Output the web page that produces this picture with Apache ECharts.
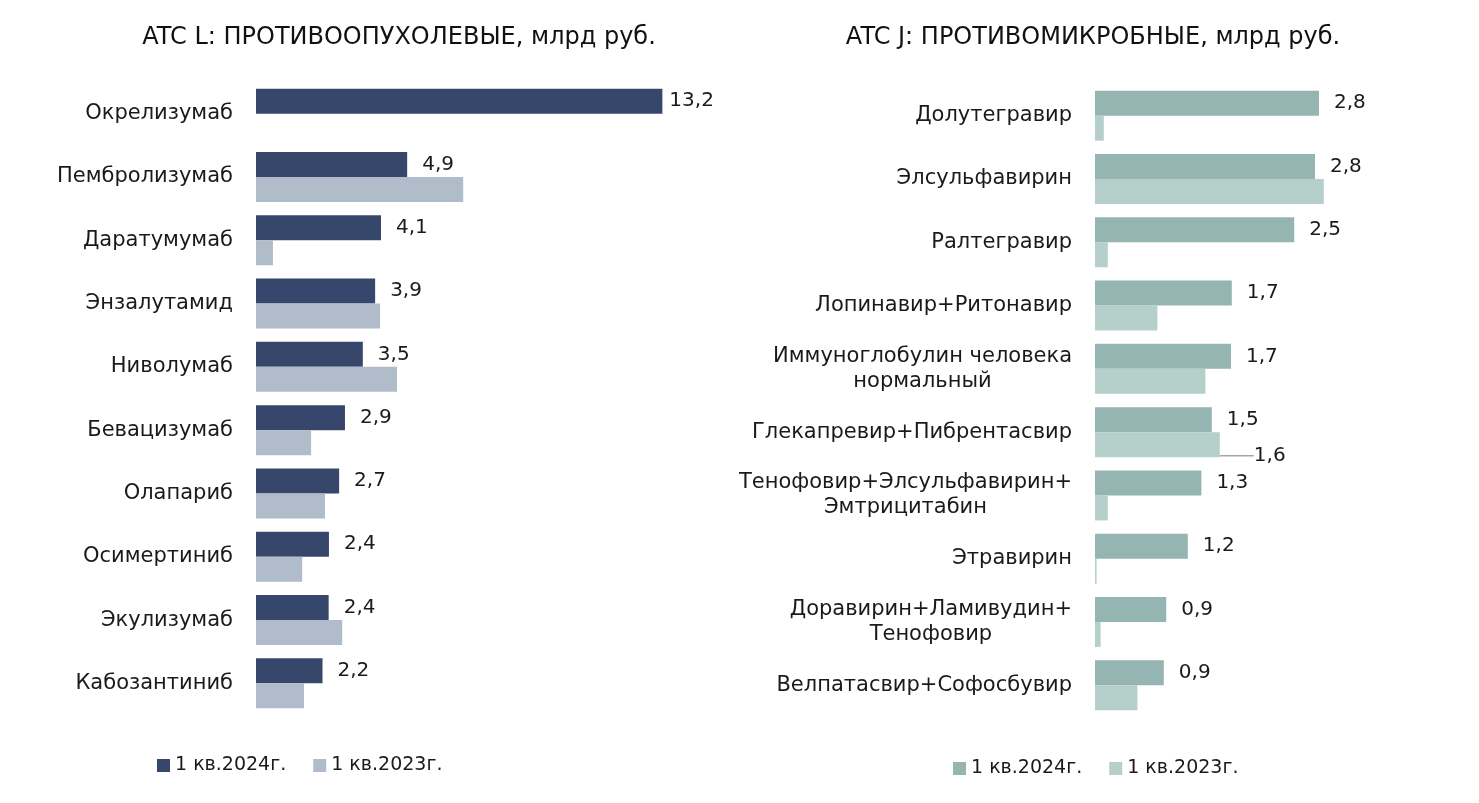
<!DOCTYPE html>
<html>
<head>
<meta charset="utf-8">
<script src="https://cdn.jsdelivr.net/npm/echarts@6/dist/echarts.min.js"></script>
<style>
  html, body { margin: 0; padding: 0; background: #fff; }
  #main { width: 1479px; height: 803px; }
</style>
</head>
<body>
<div id="main"></div>
<script>
// ATC L
const catsL = ["Окрелизумаб", "Пембролизумаб", "Даратумумаб", "Энзалутамид", "Ниволумаб",
  "Бевацизумаб", "Олапариб", "Осимертиниб", "Экулизумаб", "Кабозантиниб"];
const l2024 = [13.2, 4.91, 4.06, 3.87, 3.47, 2.89, 2.70, 2.37, 2.36, 2.16];
const l2023 = [0, 6.73, 0.55, 4.03, 4.58, 1.79, 2.24, 1.50, 2.80, 1.56];

// ATC J
const catsJ = ["Долутегравир", "Элсульфавирин", "Ралтегравир", "Лопинавир+Ритонавир",
  "Иммуноглобулин человека\nнормальный", "Глекапревир+Пибрентасвир",
  "Тенофовир+Элсульфавирин+\nЭмтрицитабин", "Этравирин",
  "Доравирин+Ламивудин+\nТенофовир", "Велпатасвир+Софосбувир"];
const j2024 = [2.80, 2.75, 2.49, 1.71, 1.70, 1.46, 1.33, 1.16, 0.89, 0.86];
const j2023 = [0.11, 2.86, 0.16, 0.78, 1.38, 1.56, 0.16, 0.02, 0.07, 0.53];

const seriesNames = ["1 кв.2024г.", "1 кв.2023г."];

const FONT = "DejaVu Sans";
const TXT = "#1a1a1a";
const fmt = p => p.value.toFixed(1).replace(".", ",");

const chart = echarts.init(document.getElementById("main"));

const catAxis = (idx, cats) => ({
  type: "category",
  gridIndex: idx,
  data: cats,
  inverse: true,
  axisLine: { show: false },
  axisTick: { show: false },
  axisLabel: {
    margin: 23,
    fontFamily: FONT,
    fontSize: 21,
    color: TXT,
    lineHeight: 25,
    formatter: v => v.split("\n").map(s => "{c|" + s + "}").join("\n"),
    rich: { c: { align: "center", fontFamily: FONT, fontSize: 21, color: TXT, lineHeight: 25 } }
  }
});

const valAxis = (idx, max) => ({
  type: "value",
  gridIndex: idx,
  min: 0,
  max: max,
  show: false
});

const barLabel = {
  show: true,
  position: "right",
  distance: 15,
  formatter: fmt,
  fontFamily: FONT,
  fontSize: 20,
  color: TXT
};

const legendBase = {
  icon: "rect", itemWidth: 13, itemHeight: 13, itemGap: 27,
  textStyle: { fontFamily: FONT, fontSize: 19, color: TXT, padding: [0, 0, 0, 0] }
};

chart.setOption({
  animation: false,
  title: [
    { text: "ATC L: ПРОТИВООПУХОЛЕВЫЕ, млрд руб.", left: 394, top: 21, textAlign: "center",
      textStyle: { fontFamily: FONT, fontSize: 24, fontWeight: "normal", color: "#111" } },
    { text: "ATC J: ПРОТИВОМИКРОБНЫЕ, млрд руб.", left: 1088, top: 21, textAlign: "center",
      textStyle: { fontFamily: FONT, fontSize: 24, fontWeight: "normal", color: "#111" } }
  ],
  legend: [
    Object.assign({ left: 152, top: 751, data: ["L24", "L23"],
      formatter: n => n === "L24" ? seriesNames[0] : seriesNames[1] }, legendBase),
    Object.assign({ left: 948, top: 754, data: ["J24", "J23"],
      formatter: n => n === "J24" ? seriesNames[0] : seriesNames[1] }, legendBase)
  ],
  grid: [
    { left: 256, top: 82, width: 431, height: 633 },
    { left: 1095, top: 84, width: 240, height: 633 }
  ],
  xAxis: [valAxis(0, 14), valAxis(1, 3)],
  yAxis: [catAxis(0, catsL), catAxis(1, catsJ)],
  series: [
    { name: "L24", type: "bar", xAxisIndex: 0, yAxisIndex: 0,
      data: l2024.map((v, i) => i === 0 ? { value: v, label: { distance: 7 } } : v),
      barWidth: 25, barGap: "0%", itemStyle: { color: "#37476c" }, label: barLabel },
    { name: "L23", type: "bar", xAxisIndex: 0, yAxisIndex: 0, data: l2023,
      barWidth: 25, barGap: "0%", itemStyle: { color: "#b0bcc9" } },
    { name: "J24", type: "bar", xAxisIndex: 1, yAxisIndex: 1, data: j2024,
      barWidth: 25, barGap: "0%", itemStyle: { color: "#94b5b2" }, label: barLabel },
    { name: "J23", type: "bar", xAxisIndex: 1, yAxisIndex: 1,
      data: j2023.map((v, i) => i === 5
        ? { value: v, label: Object.assign({}, barLabel, { show: true }),
            labelLine: { show: true, length2: 11, lineStyle: { color: "#a6a6a6", width: 1.5 } } }
        : v),
      barWidth: 25, barGap: "0%", itemStyle: { color: "#b5cfcb" },
      labelLayout: { dx: 19, dy: 11 } }
  ]
});
</script>
</body>
</html>
